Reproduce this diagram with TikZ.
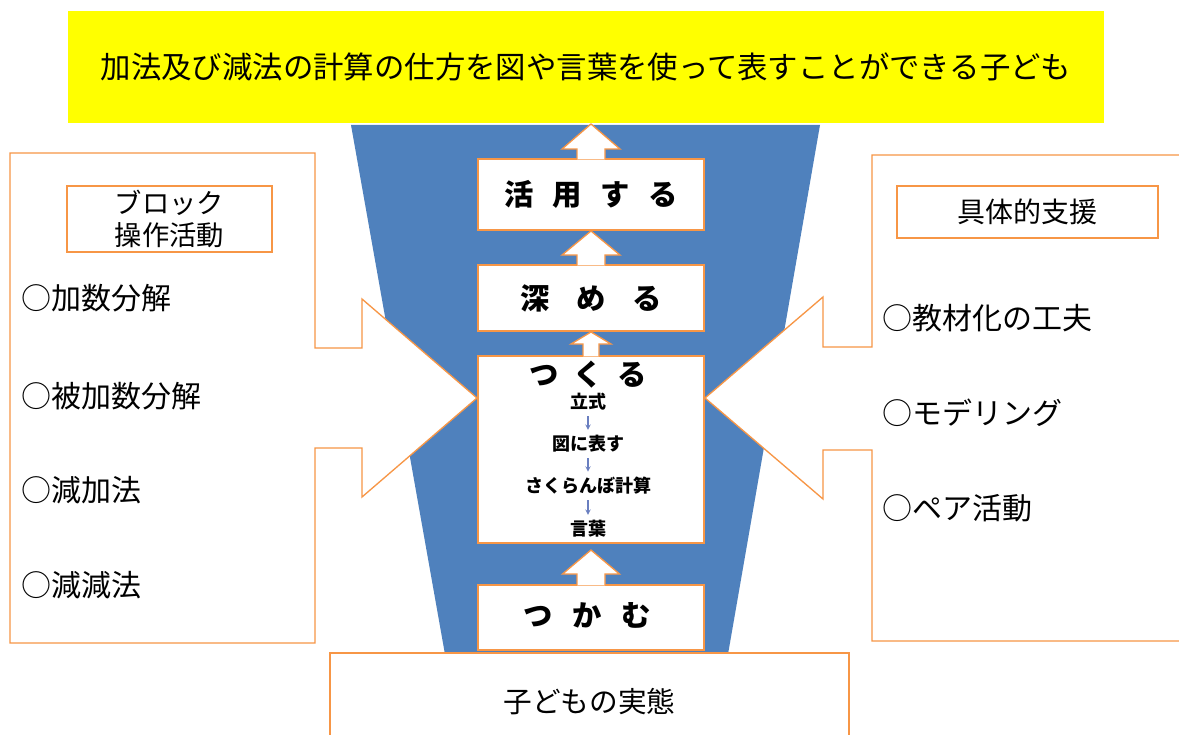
\documentclass[tikz,border=0pt]{standalone}
\usepackage{fontspec}
\setmainfont{Noto Sans CJK JP}
\usetikzlibrary{calc}
\definecolor{ora}{HTML}{F79646}
\definecolor{blu}{HTML}{4F81BD}
\definecolor{yel}{HTML}{FFFF00}
\definecolor{stepblue}{HTML}{6A7FC0}
\newcommand{\blockarrow}[5]{%
  \path[fill=white,draw=ora,line width=1pt]
    ($(#1.north)+(-#4,1)$) -- ($(#2)+(-#4,#3)$) -- ($(#2)+(-#5,#3)$) -- (#2)
    -- ($(#2)+(#5,#3)$) -- ($(#2)+(#4,#3)$) -- ($(#1.north)+(#4,1)$);
}
\begin{document}
\begin{tikzpicture}[x=0.75pt,y=-0.75pt,
  cbox/.style={draw=ora,fill=white,line width=1pt,minimum width=169.5pt,inner sep=0pt},
  obox/.style={draw=ora,fill=white,line width=1pt,inner sep=0pt},
  callout/.style={draw=ora,fill=white,line width=1pt},
  lbl/.style={font=\bfseries\fontsize{22}{26}\selectfont,inner sep=0pt},
  item/.style={font=\fontsize{22.5}{26}\selectfont,anchor=west,inner sep=0pt},
  small/.style={font=\bfseries\fontsize{13.5}{16}\selectfont,inner sep=0pt},
  smallarr/.style={->,draw=stepblue,line width=0.8pt,>=stealth,shorten <=4pt,shorten >=4pt}]
\useasboundingbox (0,0) rectangle (1179,735);
\clip (0,0) rectangle (1179,735);
\fill[white] (0,0) rectangle (1179,735);
% funnel
\fill[blu] (351,125) -- (820,125) -- (727,660) -- (446,660) -- cycle;
% left callout
\draw[callout] (10,153) -- (315,153) -- (315,348) -- (362,348) -- (362,299) -- (477,398)
  -- (362,497) -- (362,448) -- (315,448) -- (315,643) -- (10,643) -- cycle;
\node[obox,minimum width=153.75pt,minimum height=49.5pt] (lhead) at (169.5,219) {};
\node[font=\fontsize{20.5}{24}\selectfont,align=center,inner sep=0pt] (lheadt) at (169.5,219) {ブロック\\操作活動};
\node[item] (l1) at (21,298) {○加数分解};
\node[item] (l2) at (21,396) {○被加数分解};
\node[item] (l3) at (21,490) {○減加法};
\node[item] (l4) at (21,585) {○減減法};
% right callout
\path[callout] (1190,155) -- (872,155) -- (872,347) -- (823,347) -- (823,297) -- (705,398)
  -- (823,499) -- (823,450) -- (872,450) -- (872,641) -- (1190,641);
\node[obox,minimum width=195.75pt,minimum height=39pt,font=\fontsize{21}{24}\selectfont] (rhead) at (1027.5,212) {具体的支援};
\node[item] (r1) at (882,318) {○教材化の工夫};
\node[item] (r2) at (882,413) {○モデリング};
\node[item] (r3) at (882,508) {○ペア活動};
% yellow banner
\node[fill=yel,minimum width=777pt,minimum height=84pt,inner sep=0pt,font=\fontsize{22.8}{26}\selectfont] (goal) at (586,67) {加法及び減法の計算の仕方を図や言葉を使って表すことができる子ども};
% centre boxes
\node[cbox,minimum height=53.25pt] (katsuyo) at (591,194.5) {};
\node[lbl] at (katsuyo) {活\kern14pt 用\kern14pt す\kern14pt る};
\node[cbox,minimum height=49.5pt] (fukameru) at (591,298) {};
\node[lbl] at (fukameru) {深\kern20pt め\kern20pt る};
\node[cbox,minimum height=140.25pt] (tsukuru) at (591,449.5) {};
\node[lbl] (tsukurut) at (588,375) {つ\kern11pt く\kern11pt る};
\node[cbox,minimum height=48.75pt] (tsukamu) at (591,617.5) {};
\node[lbl] at (587,615) {つ\kern15pt か\kern15pt む};
% small steps
\node[small] (s1) at (588,402) {立式};
\node[small] (s2) at (588,444) {図に表す};
\node[small] (s3) at (588,486) {さくらんぼ計算};
\node[small] (s4) at (588,529) {言葉};
\draw[smallarr] (s1) -- (s2);
\draw[smallarr] (s2) -- (s3);
\draw[smallarr] (s3) -- (s4);
% bottom box
\node[obox,minimum width=389.25pt,minimum height=73.5pt,font=\fontsize{21.5}{25}\selectfont] (jittai) at (589.5,702) {子どもの実態};
% block arrows
\coordinate (t1) at (591,124);
\coordinate (t2) at (591,231);
\coordinate (t3) at (591,332);
\coordinate (t4) at (591,550);
\blockarrow{katsuyo}{t1}{25}{14}{29}
\blockarrow{fukameru}{t2}{24}{14}{29}
\blockarrow{tsukuru}{t3}{12}{8}{20}
\blockarrow{tsukamu}{t4}{24}{14}{28.5}
\end{tikzpicture}
\end{document}
